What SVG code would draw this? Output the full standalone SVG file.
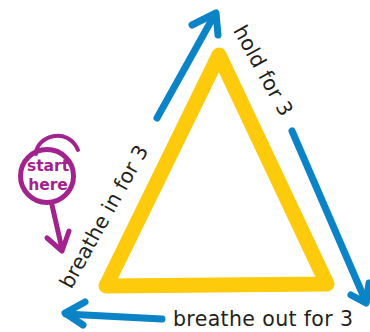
<svg xmlns="http://www.w3.org/2000/svg" width="370" height="332" viewBox="0 0 370 332">
  <style>
    .tri { fill: none; stroke: #fdcb0b; stroke-width: 15; stroke-linejoin: round; stroke-linecap: round; }
    .flow { fill: none; stroke: #0a84c6; stroke-width: 7; stroke-linecap: round; stroke-linejoin: round; }
    .pin { fill: none; stroke: #a3238e; stroke-width: 5; stroke-linecap: round; stroke-linejoin: round; }
    .lbl { font-family: "DejaVu Sans", "Open Sans", sans-serif; font-size: 20.5px; fill: #231f20; }
    .start { font-family: "DejaVu Sans", "Open Sans", sans-serif; font-size: 15.5px; fill: #a3238e; font-weight: bold; text-anchor: middle; }
  </style>

  <!-- breathing triangle -->
  <g id="triangle">
    <path class="tri" d="M 106 286 L 219 55 L 327 284 Z"/>
  </g>

  <!-- cycle arrows -->
  <g id="connectors">
    <path class="flow" d="M 157 118 L 215 14"/>
    <path class="flow" d="M 192 25 L 216 13 L 218 35"/>
    <path class="flow" d="M 292 131 L 366 302"/>
    <path class="flow" d="M 351 295 L 366 303 L 369 283"/>
    <path class="flow" d="M 162 319 L 66 314"/>
    <path class="flow" d="M 85 302 L 65 313 L 83 325"/>
  </g>

  <!-- start marker -->
  <g id="start-here">
    <circle class="pin" cx="47" cy="176" r="26.5"/>
    <path class="pin" style="stroke-width:4" d="M 36 154 C 36 136, 68 126, 78 150"/>
    <path class="pin" d="M 52 205 L 62 249"/>
    <path class="pin" d="M 47 238 L 62 251 L 69 231"/>
    <text class="start" x="48" y="171">start</text>
    <text class="start" x="48" y="190">here</text>
  </g>

  <!-- phase labels -->
  <g id="label-hold">
    <text class="lbl" text-anchor="middle" textLength="100" transform="translate(257 74) rotate(61)">hold for 3</text>
  </g>
  <g id="label-in">
    <text class="lbl" text-anchor="middle" textLength="160" transform="translate(110 220) rotate(-61)">breathe in for 3</text>
  </g>
  <g id="label-out">
    <text class="lbl" x="173" y="326" textLength="180">breathe out for 3</text>
  </g>
</svg>
